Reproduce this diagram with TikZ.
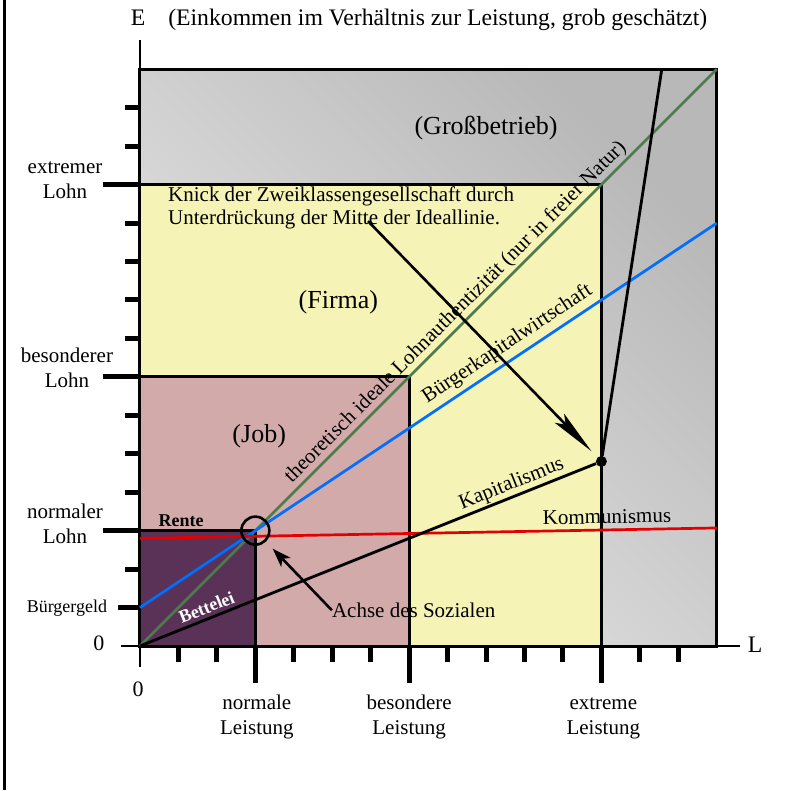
\documentclass[tikz,border=0pt]{standalone}
\usepackage{fontspec}
\setmainfont{Liberation Serif}
\usetikzlibrary{arrows.meta}
\definecolor{grauhell}{RGB}{232,232,232}
\definecolor{graudunkel}{RGB}{184,184,184}
\definecolor{firmagelb}{RGB}{245,243,181}
\definecolor{jobrosa}{RGB}{211,170,170}
\definecolor{bettellila}{RGB}{90,50,88}
\definecolor{idealgruen}{RGB}{78,122,78}
\definecolor{buergerblau}{RGB}{0,110,255}
\definecolor{kommunrot}{RGB}{228,0,0}
\tikzset{x=38.45pt, y=38.45pt, % one step of income or of performance
every node/.style={font=\fontsize{21}{25}\selectfont, inner sep=0pt}, % all labels in the same serif
rahmen/.style={line width=3pt}, % borders of the four areas
achse/.style={line width=2.6pt}, % the two axes
strich/.style={line width=5pt}, % tick marks on the axes
ideal/.style={line width=2.7pt, draw=idealgruen},
buerger/.style={line width=2.7pt, draw=buergerblau},
kommun/.style={line width=2.7pt, draw=kommunrot},
kapital/.style={line width=2.8pt, draw=black},
gebiet/.style={font=\fontsize{26}{30}\selectfont}, % names of the areas
kopf/.style={font=\fontsize{23.7}{27}\selectfont}, % axis names
fett/.style={font=\fontsize{18}{20}\selectfont\bfseries},
knickpfeil/.style={line width=2.6pt, -{Stealth[length=46pt, width=13pt, inset=9pt]}},
achsepfeil/.style={line width=2.6pt, -{Stealth[length=19pt, width=13pt, inset=5pt]}},
}
\begin{document}
\begin{tikzpicture}
    \useasboundingbox (-3.641,-3.745) rectangle (17.035,16.801);
    \draw[line width=3pt] (-3.524,-3.745) -- (-3.524,16.801);

    % areas
    \draw[rahmen, bottom color=grauhell, top color=graudunkel, shading angle=-45] (0,0) rectangle (15,15);
    \draw[rahmen, fill=firmagelb] (0,0) rectangle (12,12);
    \draw[rahmen, fill=jobrosa] (0,0) rectangle (7,7);
    \draw[rahmen, fill=bettellila] (0,0) rectangle (3,3);

    % ticks
    \foreach \k in {2,4,5,6,8,9,10,11,13,14}
        \draw[strich] (-0.39,\k) -- (0,\k);
    \foreach \k in {3,7,12}
        \draw[strich] (-0.96,\k) -- (0,\k);
    \draw[strich] (-0.57,1) -- (0,1);
    \foreach \i in {1,2,4,5,6,8,9,10,11,13,14}
        \draw[strich] (\i,0) -- (\i,-0.42);
    \foreach \i in {3,7,12}
        \draw[strich] (\i,0) -- (\i,-0.96);

    % axes
    \coordinate (xanfang) at (-0.5,0);
    \coordinate (xende) at (15.6,0);
    \coordinate (yanfang) at (0,-0.55);
    \coordinate (yende) at (0,15.76);
    \draw[achse] (xanfang) -- (xende);
    \draw[achse] (yanfang) -- (yende);

    \coordinate (ursprung) at (0,0);
    \coordinate (idealende) at (15,15);
    \coordinate (blaustart) at (0,1);
    \coordinate (blauende) at (15,11);
    \coordinate (rotstart) at (0,2.8);
    \coordinate (rotende) at (15,3.07);
    \coordinate (steilende) at (13.57,15);
    \node[circle, fill, minimum size=11pt] (knickpunkt) at (12,4.8) {};

    \draw
    (ursprung) edge[ideal] node[sloped, above=1.8pt, pos=0.563]{theoretisch ideale Lohnauthentizität (nur in freier Natur)} (idealende)
    (blaustart) edge[buerger] node[sloped, above=4.5pt, pos=0.652]{Bürgerkapitalwirtschaft} (blauende)
    (rotstart) edge[kommun] node[sloped, above=5pt, pos=0.81]{Kommunismus} (rotende)
    (ursprung) edge[kapital] node[sloped, above=3.5pt, pos=0.155, fett, text=white]{Bettelei}
        node[sloped, above=1.5pt, pos=0.825]{Kapitalismus} (knickpunkt)
    (knickpunkt) edge[kapital] (steilende)
    ;
    \node[circle, draw, line width=2.6pt, minimum size=28pt] (kreis) at (3,3) {};

    % labels
    \node[kopf, anchor=base] (E) at (-0.05,16.125) {E};
    \node[kopf, anchor=base west] (titel) at (0.73,16.125) {(Einkommen im Verhältnis zur Leistung, grob geschätzt)};
    \node[kopf, anchor=center] (L) at (16.0,0.04) {L};
    \node[gebiet, anchor=base] (gross) at (9.0,13.29) {(Großbetrieb)};
    \node[gebiet, anchor=base] (firma) at (5.16,8.79) {(Firma)};
    \node[gebiet, anchor=base] (job) at (3.1,5.28) {(Job)};
    \node[fett, anchor=base] (rente) at (1.07,3.10) {Rente};
    \node[anchor=base west, align=left, font=\fontsize{21}{22.3}\selectfont] (knick) at (0.728,10.975)
        {Knick der Zweiklassengesellschaft durch\\Unterdrückung der Mitte der Ideallinie.};
    \node[anchor=west] (achse) at (4.99,0.93) {Achse des Sozialen};

    \node[anchor=base, align=center] (extremLohn) at (-1.95,11.63) {extremer\\Lohn};
    \node[anchor=base, align=center] (besondersLohn) at (-1.90,6.71) {besonderer\\Lohn};
    \node[anchor=base, align=center] (normalLohn) at (-1.95,2.67) {normaler\\Lohn};
    \node[anchor=base, font=\fontsize{18}{20}\selectfont] (buergergeld) at (-1.90,0.884) {Bürgergeld};
    \node[anchor=base, font=\fontsize{22}{26}\selectfont] (nullE) at (-1.07,-0.12) {0};
    \node[anchor=base, font=\fontsize{22}{26}\selectfont] (nullL) at (-0.05,-1.32) {0};
    \node[anchor=base, align=center] (normalL) at (3.04,-2.31) {normale\\Leistung};
    \node[anchor=base, align=center] (besondersL) at (7.0,-2.31) {besondere\\Leistung};
    \node[anchor=base, align=center] (extremL) at (12.05,-2.31) {extreme\\Leistung};

    % arrows
    \coordinate (knickstart) at (5.93,11.05);
    \draw[knickpfeil, shorten >=8.5pt] (knickstart) -- (knickpunkt);
    \draw[achsepfeil, shorten >=9.7pt] (achse.west) -- (kreis);
\end{tikzpicture}
\end{document}
